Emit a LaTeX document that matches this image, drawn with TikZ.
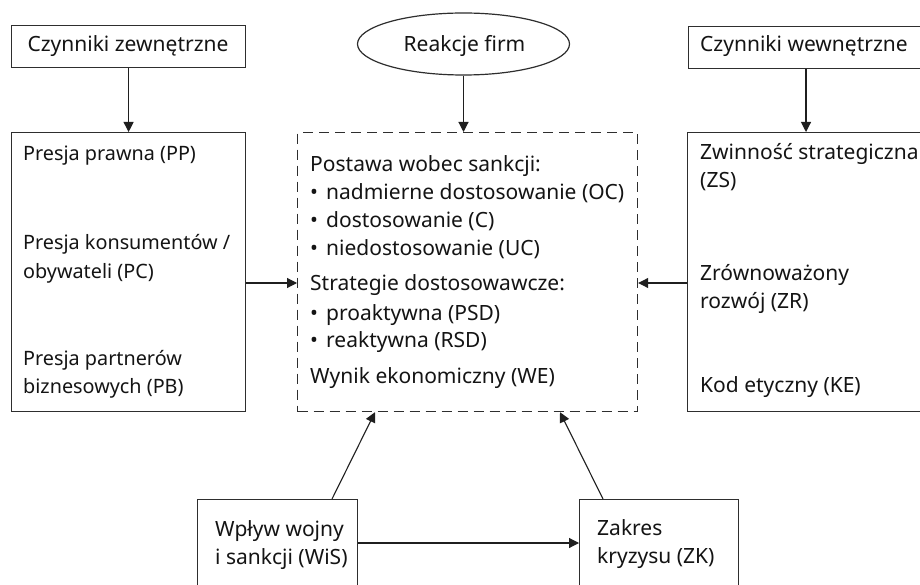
\documentclass[tikz,border=0pt]{standalone}
\usepackage{fontspec}
\setmainfont{Noto Sans}
\usetikzlibrary{arrows.meta,calc,shapes.geometric}
\newcommand{\bul}{\makebox[16pt][l]{•}}
\begin{document}
\begin{tikzpicture}[x=1pt,y=-1pt,
  every node/.style={font=\fontsize{21}{26}\selectfont, text=black!92},
  box/.style={draw=black!82, line width=1.2pt, rectangle, inner sep=0pt, anchor=north west},
  dbox/.style={box, dash pattern=on 10pt off 6pt},
  lbl/.style={anchor=base west, inner sep=0pt},
  lbls/.style={lbl, font=\fontsize{19.8}{24}\selectfont},
  arr/.style={draw=black!88, line width=1.1pt, -{Triangle[length=10pt,width=10pt]}}]
\useasboundingbox (0,0) rectangle (920,585);
\clip (0,0) rectangle (920,585);
\fill[white] (0,0) rectangle (920,585);

% top row
\node[box, minimum width=234pt, minimum height=42pt] (czz) at (11,25) {};
\node[lbl, anchor=base] (czzt) at (128,52) {Czynniki zewnętrzne};
\node[draw=black!82, line width=1.2pt, ellipse, minimum width=212pt, minimum height=62pt, inner sep=0pt] (rf) at (463.5,44) {};
\node[lbl, anchor=base] (rft) at (464.5,52) {Reakcje firm};
\node[box, minimum width=236pt, minimum height=42pt] (czw) at (688,26) {};
\node[lbl] (czwt) at (700,52) {Czynniki wewnętrzne};

% middle row
\node[box, minimum width=234pt, minimum height=279pt] (lb) at (11,132) {};
\node[dbox, minimum width=340pt, minimum height=279pt] (db) at (297,132) {};
\node[box, minimum width=237pt, minimum height=279pt] (rb) at (687,132) {};

\node[lbls] (pp) at (23,161) {Presja prawna (PP)};
\node[lbls] (pc1) at (23,250) {Presja konsumentów /};
\node[lbls] (pc2) at (23,278) {obywateli (PC)};
\node[lbls] (pb1) at (23,365) {Presja partnerów};
\node[lbls] (pb2) at (23,393) {biznesowych (PB)};

\node[lbl] (d1) at (310,172) {Postawa wobec sankcji:};
\node[lbl] (d2) at (310,200) {\bul nadmierne dostosowanie (OC)};
\node[lbl] (d3) at (310,227.5) {\bul dostosowanie (C)};
\node[lbl] (d4) at (310,255) {\bul niedostosowanie (UC)};
\node[lbl] (d5) at (310,290) {Strategie dostosowawcze:};
\node[lbl] (d6) at (310,320) {\bul proaktywna (PSD)};
\node[lbl] (d7) at (310,347.5) {\bul reaktywna (RSD)};
\node[lbl] (d8) at (310,383) {Wynik ekonomiczny (WE)};

\node[lbl] (zs1) at (700,160) {Zwinność strategiczna};
\node[lbl] (zs2) at (700,188) {(ZS)};
\node[lbl] (zr1) at (700,280) {Zrównoważony};
\node[lbl] (zr2) at (700,308) {rozwój (ZR)};
\node[lbl] (ke) at (700,392) {Kod etyczny (KE)};

% bottom row
\node[box, minimum width=160pt, minimum height=130pt] (wis) at (197,499) {};
\node[box, minimum width=159pt, minimum height=130pt] (zk) at (579,499) {};
\node[lbl] (w1) at (215,536) {Wpływ wojny};
\node[lbl] (w2) at (215,564) {i sankcji (WiS)};
\node[lbl] (z1) at (597,535) {Zakres};
\node[lbl] (z2) at (597,563) {kryzysu (ZK)};

\coordinate (ay) at (0,283);
\coordinate (by) at (0,543);

% connectors
\draw[arr] (czz.south) -- (lb.north);
\draw[arr] (rf.south) -- (rf.south |- db.north);
\draw[arr] (czw.south west) ++(118,0) coordinate (c1) -- (c1 |- rb.north);
\draw[arr] (lb.east |- ay) -- (db.west |- ay);
\draw[arr] (rb.west |- ay) -- (db.east |- ay);
\draw[arr] (wis.east |- by) -- (zk.west |- by);
\draw[arr] ($(wis.north west)+(135,0)$) -- ($(db.south west)+(78,0)$);
\draw[arr] ($(zk.north west)+(24,0)$) -- ($(db.south west)+(263,0)$);
\end{tikzpicture}
\end{document}
